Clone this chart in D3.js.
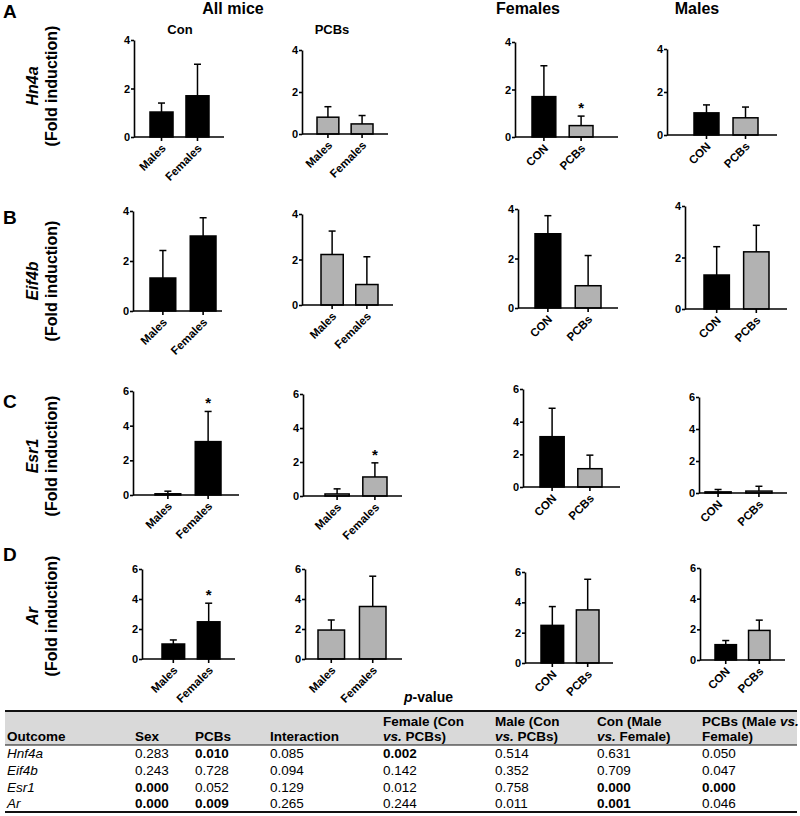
<!DOCTYPE html>
<html>
<head>
<meta charset="utf-8">
<script src="https://cdn.jsdelivr.net/npm/d3@7"></script>
<style>
  html, body { margin: 0; padding: 0; background: #fff; }
  svg { display: block; font-family: "Liberation Sans", Arial, sans-serif; }
</style>
</head>
<body>
<svg id="chart" width="800" height="816"></svg>
<script>
// ---------------- DATA ----------------
const geneLabels = ["Hn4a", "Eif4b", "Esr1", "Ar"];
const rowLetters = ["A", "B", "C", "D"];
const yMaxByGene = [4, 4, 6, 6];

// group means and upper SD (fold induction)
const conMaleMean   = [1.03, 1.32, 0.07, 1.00];
const conMaleSD     = [0.37, 1.10, 0.15, 0.27];
const conFemaleMean = [1.70, 3.00, 3.08, 2.48];
const conFemaleSD   = [1.30, 0.73, 1.74, 1.24];
const pcbMaleMean   = [0.80, 2.22, 0.12, 1.93];
const pcbMaleSD     = [0.50, 1.03, 0.30, 0.67];
const pcbFemaleMean = [0.48, 0.90, 1.12, 3.50];
const pcbFemaleSD   = [0.40, 1.22, 0.83, 2.02];

const panelTitles = ["Con", "PCBs", "Females", "Males"];
const sexLabels = ["Males", "Females"];
const treatLabels = ["CON", "PCBs"];

// significance stars: [gene index, panel index, bar index]
const stars = [[0, 2, 1], [2, 0, 1], [2, 1, 1], [3, 0, 1]];

// table
const tableHeaders = [
  ["Outcome"], ["Sex"], ["PCBs"], ["Interaction"],
  ["Female (Con", "vs. PCBs)"], ["Male (Con", "vs. PCBs)"],
  ["Con (Male", "vs. Female)"], ["PCBs (Male vs.", "Female)"]
];
const tableGenes = ["Hnf4a", "Eif4b", "Esr1", "Ar"];
const pSex         = ["0.283", "0.243", "0.000", "0.000"];
const pPCBs        = ["0.010", "0.728", "0.052", "0.009"];
const pInteraction = ["0.085", "0.094", "0.129", "0.265"];
const pFemale      = ["0.002", "0.142", "0.012", "0.244"];
const pMale        = ["0.514", "0.352", "0.758", "0.011"];
const pConSex      = ["0.631", "0.709", "0.000", "0.001"];
const pPCBSex      = ["0.050", "0.047", "0.000", "0.046"];
// bold (significant) flags per column
const boldSex         = [false, false, true, true];
const boldPCBs        = [true, false, false, true];
const boldInteraction = [false, false, false, false];
const boldFemale      = [true, false, false, false];
const boldMale        = [false, false, false, false];
const boldConSex      = [false, false, true, true];
const boldPCBSex      = [false, false, true, false];

// ---------------- LAYOUT ----------------
// per panel: [axisX, axisEnd, yTop, yBottom, firstBarStart, lastBarEnd]
const layout = [
  [[134,224,40,137,150,209],[302,388,50,134,317,373],[515,618,42,137,532,593],[667,777,49,135,694,758]],
  [[133,222,211,311,150,216],[302,393,214,305,321,378],[518,618,209,308,535,601],[685,787,206,309,704,769]],
  [[133,239,391,495,155,221],[303,402,394,496,325,387],[523,620,389,487,540,602],[699,787,397,493,705,772]],
  [[142,235,569,659,162,220],[305,402,569,659,318,386],[525,613,572,663,541,599],[700,785,568,660,715,770]]
];
const rowLetterY = [18, 224, 408, 561];
const yLabelCenter = [86, 281, 456, 616];
const BLACK = "#000", GREY = "#b2b2b2";

const svg = d3.select("#chart");

// column titles
svg.append("text").attr("x", 233).attr("y", 14).attr("text-anchor", "middle")
  .attr("font-weight", "bold").attr("font-size", 16).text("All mice");
svg.append("text").attr("x", 528).attr("y", 14).attr("text-anchor", "middle")
  .attr("font-weight", "bold").attr("font-size", 16).text(panelTitles[2]);
svg.append("text").attr("x", 697).attr("y", 14).attr("text-anchor", "middle")
  .attr("font-weight", "bold").attr("font-size", 16).text(panelTitles[3]);
svg.append("text").attr("x", 180).attr("y", 34).attr("text-anchor", "middle")
  .attr("font-weight", "bold").attr("font-size", 13).text(panelTitles[0]);
svg.append("text").attr("x", 332).attr("y", 34).attr("text-anchor", "middle")
  .attr("font-weight", "bold").attr("font-size", 13).text(panelTitles[1]);

for (let g = 0; g < 4; g++) {
  // row letter
  svg.append("text").attr("x", 3).attr("y", rowLetterY[g])
    .attr("font-weight", "bold").attr("font-size", 19).text(rowLetters[g]);
  // y label
  const yl = svg.append("text")
    .attr("transform", `translate(38,${yLabelCenter[g]}) rotate(-90)`)
    .attr("text-anchor", "middle").attr("font-weight", "bold").attr("font-size", 16);
  yl.append("tspan").attr("font-style", "italic").attr("x", 0).attr("dy", 0).text(geneLabels[g]);
  yl.append("tspan").attr("x", 0).attr("dy", 19).text("(Fold induction)");

  const panels = [
    { means: [conMaleMean[g], conFemaleMean[g]], sds: [conMaleSD[g], conFemaleSD[g]], labels: sexLabels, fills: [BLACK, BLACK] },
    { means: [pcbMaleMean[g], pcbFemaleMean[g]], sds: [pcbMaleSD[g], pcbFemaleSD[g]], labels: sexLabels, fills: [GREY, GREY] },
    { means: [conFemaleMean[g], pcbFemaleMean[g]], sds: [conFemaleSD[g], pcbFemaleSD[g]], labels: treatLabels, fills: [BLACK, GREY] },
    { means: [conMaleMean[g], pcbMaleMean[g]], sds: [conMaleSD[g], pcbMaleSD[g]], labels: treatLabels, fills: [BLACK, GREY] }
  ];

  panels.forEach((p, c) => {
    const [ax, ae, yTop, yBot, b0, b1] = layout[g][c];
    const y = d3.scaleLinear().domain([0, yMaxByGene[g]]).range([yBot, yTop]);
    const x = d3.scaleBand().domain(p.labels).range([b0, b1]).paddingInner(0.36).paddingOuter(0);
    const gp = svg.append("g");

    // bars
    p.labels.forEach((lab, i) => {
      const bx = x(lab), bw = x.bandwidth();
      const top = y(p.means[i]);
      gp.append("rect").attr("x", bx).attr("y", top)
        .attr("width", bw).attr("height", Math.max(0, yBot - top))
        .attr("fill", p.fills[i]).attr("stroke", BLACK).attr("stroke-width", 1.5);
      const cx = bx + bw / 2;
      const et = y(p.means[i] + p.sds[i]);
      gp.append("line").attr("x1", cx).attr("x2", cx).attr("y1", top).attr("y2", et)
        .attr("stroke", BLACK).attr("stroke-width", 1.5);
      gp.append("line").attr("x1", cx - 3.5).attr("x2", cx + 3.5).attr("y1", et).attr("y2", et)
        .attr("stroke", BLACK).attr("stroke-width", 1.5);
      if (stars.some(s => s[0] === g && s[1] === c && s[2] === i)) {
        gp.append("text").attr("x", cx).attr("y", et - 3).attr("text-anchor", "middle")
          .attr("font-weight", "bold").attr("font-size", 15).text("*");
      }
    });

    // y axis
    const yAxis = d3.axisLeft(y).tickValues(d3.range(0, yMaxByGene[g] + 1, 2))
      .tickSize(3).tickPadding(1).tickSizeOuter(0).tickFormat(d3.format("d"));
    const ya = gp.append("g").attr("transform", `translate(${ax},0)`).call(yAxis);
    ya.selectAll("path, line").attr("stroke", BLACK).attr("stroke-width", 1.6);
    ya.selectAll("text").attr("font-weight", "bold").attr("font-size", 11)
      .attr("font-family", "Liberation Sans, Arial, sans-serif").attr("fill", BLACK);

    // x axis
    const xAxis = d3.axisBottom(x).tickSize(4).tickSizeOuter(0).tickFormat("");
    const xa = gp.append("g").attr("transform", `translate(0,${yBot})`).call(xAxis);
    xa.select(".domain").attr("d", `M${ax},0H${ae}`);
    xa.selectAll("path, line").attr("stroke", BLACK).attr("stroke-width", 1.6);

    // rotated x labels
    p.labels.forEach((lab) => {
      const cx = x(lab) + x.bandwidth() / 2;
      gp.append("text")
        .attr("transform", `translate(${cx + 5},${yBot + 12}) rotate(-45)`)
        .attr("text-anchor", "end").attr("font-weight", "bold").attr("font-size", 11.5)
        .text(lab);
    });
  });
}

// ---------------- TABLE ----------------
const colX = [7, 135, 195, 270, 383, 495, 597, 702];
const tbl = svg.append("g").attr("font-size", 13.5);
svg.append("text").attr("x", 404).attr("y", 702).attr("font-weight", "bold").attr("font-size", 14)
  .call(t => { t.append("tspan").attr("font-style", "italic").text("p"); t.append("tspan").text("-value"); });

tbl.append("rect").attr("x", 5).attr("y", 711).attr("width", 792).attr("height", 34).attr("fill", "#d9d9d9");
tbl.append("line").attr("x1", 5).attr("x2", 797).attr("y1", 711).attr("y2", 711).attr("stroke", "#111").attr("stroke-width", 2);
tbl.append("line").attr("x1", 5).attr("x2", 797).attr("y1", 745).attr("y2", 745).attr("stroke", "#111").attr("stroke-width", 1);
tbl.append("line").attr("x1", 5).attr("x2", 797).attr("y1", 812).attr("y2", 812).attr("stroke", "#111").attr("stroke-width", 2);

tableHeaders.forEach((lines, i) => {
  lines.forEach((ln, j) => {
    const yy = lines.length === 1 ? 741 : (j === 0 ? 726 : 741);
    const t = tbl.append("text").attr("x", colX[i]).attr("y", yy).attr("font-weight", "bold");
    // italicise "vs."
    const parts = ln.split(/(vs\.)/);
    parts.forEach(pt => {
      if (!pt) return;
      t.append("tspan").attr("font-style", pt === "vs." ? "italic" : "normal").text(pt);
    });
  });
});

const cols = [
  [pSex, boldSex], [pPCBs, boldPCBs], [pInteraction, boldInteraction], [pFemale, boldFemale],
  [pMale, boldMale], [pConSex, boldConSex], [pPCBSex, boldPCBSex]
];
const rowY = [758, 775, 792, 808];
tableGenes.forEach((gn, r) => {
  tbl.append("text").attr("x", colX[0]).attr("y", rowY[r]).attr("font-style", "italic").text(gn);
  cols.forEach(([vals, bolds], c) => {
    tbl.append("text").attr("x", colX[c + 1]).attr("y", rowY[r])
      .attr("font-weight", bolds[r] ? "bold" : "normal").text(vals[r]);
  });
});
</script>
</body>
</html>
